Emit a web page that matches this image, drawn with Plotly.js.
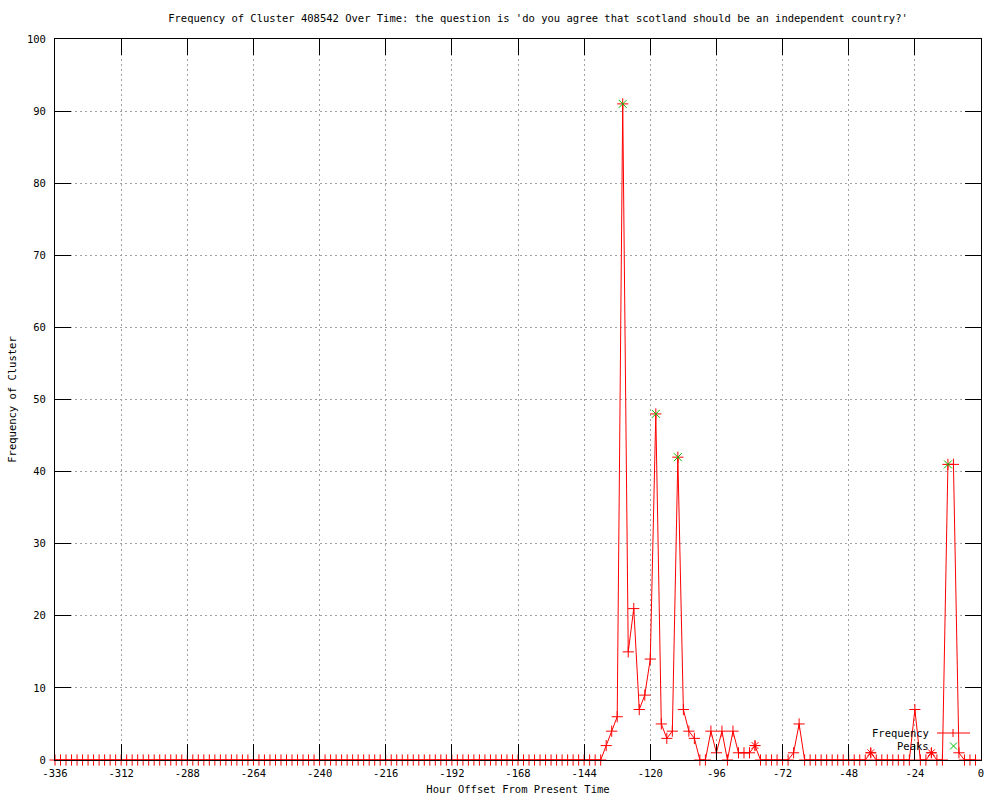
<!DOCTYPE html>
<html>
<head>
<meta charset="utf-8">
<script src="https://cdn.plot.ly/plotly-3.0.1.min.js"></script>
<style>html,body{margin:0;padding:0;background:#fff;}#chart{width:1000px;height:800px;}</style>
</head>
<body>
<div id="chart"></div>
<script>
// Hour offsets (every 2 hours)
const hours = [
-336,-334,-332,-330,-328,-326,-324,-322,-320,-318,-316,-314,-312,-310,-308,-306,-304,-302,-300,-298,
-296,-294,-292,-290,-288,-286,-284,-282,-280,-278,-276,-274,-272,-270,-268,-266,-264,-262,-260,-258,
-256,-254,-252,-250,-248,-246,-244,-242,-240,-238,-236,-234,-232,-230,-228,-226,-224,-222,-220,-218,
-216,-214,-212,-210,-208,-206,-204,-202,-200,-198,-196,-194,-192,-190,-188,-186,-184,-182,-180,-178,
-176,-174,-172,-170,-168,-166,-164,-162,-160,-158,-156,-154,-152,-150,-148,-146,-144,-142,-140,-138,
-136,-134,-132,-130,-128,-126,-124,-122,-120,-118,-116,-114,-112,-110,-108,-106,-104,-102,-100,-98,
-96,-94,-92,-90,-88,-86,-84,-82,-80,-78,-76,-74,-72,-70,-68,-66,-64,-62,-60,-58,
-56,-54,-52,-50,-48,-46,-44,-42,-40,-38,-36,-34,-32,-30,-28,-26,-24,-22,-20,-18,
-16,-14,-12,-10,-8,-6,-4,-2
];
const frequency = [
0,0,0,0,0,0,0,0,0,0,0,0,0,0,0,0,0,0,0,0,
0,0,0,0,0,0,0,0,0,0,0,0,0,0,0,0,0,0,0,0,
0,0,0,0,0,0,0,0,0,0,0,0,0,0,0,0,0,0,0,0,
0,0,0,0,0,0,0,0,0,0,0,0,0,0,0,0,0,0,0,0,
0,0,0,0,0,0,0,0,0,0,0,0,0,0,0,0,0,0,0,0,
2,4,6,91,15,21,7,9,14,48,5,3,4,42,7,4,3,0,0,4,
1,4,0,4,1,1,1,2,0,0,0,0,0,0,1,5,0,0,0,0,
0,0,0,0,0,0,0,0,1,0,0,0,0,0,0,0,7,0,0,1,
0,0,41,41,1,0,0,0
];
const peakHours = [-130,-118,-110,-12];
const peakValues = [91,48,42,41];
const minorPeakHours = [-82,-40,-18];
const minorPeakValues = [2,1,1];

const xTickVals = [-336,-312,-288,-264,-240,-216,-192,-168,-144,-120,-96,-72,-48,-24,0];
const xTickText = ["-336","-312","-288","-264","-240","-216","-192","-168","-144","-120","-96","-72","-48","-24","0"];
const yTickVals = [0,10,20,30,40,50,60,70,80,90,100];

const FONT = "DejaVu Sans Mono, monospace";
const FS = 10.5;
const RED = "#ff0000";
const GREEN = "#00c000";

const traces = [
  {
    x: hours, y: frequency, type: "scatter", mode: "lines+markers", name: "Frequency",
    line: {color: RED, width: 1}, cliponaxis: false,
    marker: {symbol: "cross-thin-open", size: 8, color: RED, line: {color: RED, width: 1}},
    showlegend: false, hoverinfo: "x+y"
  },
  {
    x: minorPeakHours, y: minorPeakValues, type: "scatter", mode: "markers", name: "minor",
    cliponaxis: false,
    marker: {symbol: "asterisk-open", size: 8, color: RED, line: {color: RED, width: 1}},
    showlegend: false
  },
  {
    x: peakHours, y: peakValues, type: "scatter", mode: "markers", name: "Peaks",
    cliponaxis: false,
    marker: {symbol: "x-thin-open", size: 8, color: GREEN, line: {color: GREEN, width: 1}},
    showlegend: false
  }
];

// custom gnuplot-like legend (paper coords)
function px2x(px){ return (px - 55) / 926; }
function py2y(py){ return (760 - py) / 721; }
const shapes = [
  {type:"line", xref:"paper", yref:"paper", x0:px2x(937), x1:px2x(970), y0:py2y(733), y1:py2y(733), line:{color:RED,width:1}},
  {type:"line", xref:"paper", yref:"paper", x0:px2x(953), x1:px2x(953), y0:py2y(729), y1:py2y(737), line:{color:RED,width:1}},
  {type:"line", xref:"paper", yref:"paper", x0:px2x(950), x1:px2x(957), y0:py2y(742.5), y1:py2y(749.5), line:{color:GREEN,width:1}},
  {type:"line", xref:"paper", yref:"paper", x0:px2x(950), x1:px2x(957), y0:py2y(749.5), y1:py2y(742.5), line:{color:GREEN,width:1}}
];
const annotations = [
  {text:"Frequency", xref:"paper", yref:"paper", x:px2x(931), y:py2y(733), xanchor:"right", yanchor:"middle", showarrow:false, font:{family:FONT,size:FS,color:"#000"}},
  {text:"Peaks", xref:"paper", yref:"paper", x:px2x(931), y:py2y(746), xanchor:"right", yanchor:"middle", showarrow:false, font:{family:FONT,size:FS,color:"#000"}}
];

const layout = {
  width: 1000, height: 800,
  margin: {l:55, r:19, t:39, b:40, pad:0},
  paper_bgcolor: "#ffffff", plot_bgcolor: "#ffffff",
  font: {family: FONT, size: FS, color: "#000"},
  showlegend: false,
  title: {text: "Frequency of Cluster 408542 Over Time: the question is 'do you agree that scotland should be an independent country?'",
          xref: "container", x: 0.538, xanchor: "center", yref: "container", y: 1 - 18/800, yanchor: "middle",
          font: {family: FONT, size: FS, color: "#000"}},
  xaxis: {
    range: [-336, 0], tickvals: xTickVals, ticktext: xTickText,
    ticks: "inside", ticklen: 16, tickwidth: 1, tickcolor: "#000",
    showline: true, linecolor: "#000", linewidth: 1, mirror: "ticks", layer: "above traces",
    showgrid: true, gridcolor: "#a0a0a0", gridwidth: 1, griddash: "2px,3px",
    zeroline: false, ticklabelstandoff: 3,
    tickfont: {family: FONT, size: FS, color: "#000"},
    title: {text: "Hour Offset From Present Time", standoff: 8, font: {family: FONT, size: FS, color: "#000"}}
  },
  yaxis: {
    range: [0, 100], tickvals: yTickVals,
    ticks: "inside", ticklen: 16, tickwidth: 1, tickcolor: "#000",
    showline: true, linecolor: "#000", linewidth: 1, mirror: "ticks", layer: "above traces",
    showgrid: true, gridcolor: "#a0a0a0", gridwidth: 1, griddash: "2px,3px",
    zeroline: false, ticklabelstandoff: 6,
    tickfont: {family: FONT, size: FS, color: "#000"},
    title: {text: "Frequency of Cluster", standoff: 8, font: {family: FONT, size: FS, color: "#000"}}
  },
  shapes: shapes,
  annotations: annotations
};

Plotly.newPlot("chart", traces, layout, {displayModeBar: false, staticPlot: true});
</script>
</body>
</html>
